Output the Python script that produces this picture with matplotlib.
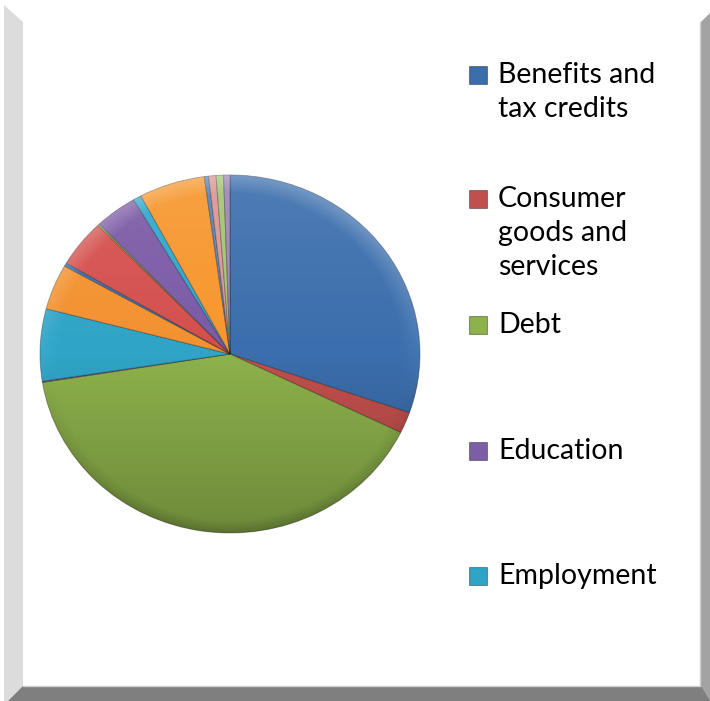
import numpy as np
import matplotlib
matplotlib.use("Agg")
import matplotlib.pyplot as plt
from matplotlib.patches import Polygon, Rectangle, Circle

# slice shares, clockwise from 12 o'clock
legend_labels = ["Benefits and\ntax credits", "Consumer\ngoods and\nservices",
                 "Debt", "Education", "Employment"]
shares = [30.3, 1.9, 40.2, 0.1, 6.5, 4.1, 0.3, 4.3, 0.15, 3.6, 0.7, 5.6,
          0.36, 0.63, 0.63, 0.54]
slice_colors = ["#3b6ead", "#c0504d", "#8db14b", "#7b5ea6", "#2fa4c6",
                "#f3912f", "#3b6fb2", "#d44f4c", "#8db14b", "#7b5aa6",
                "#2ea8cd", "#f7962d", "#5b82b8", "#d99694", "#a5c374",
                "#9b87b5"]

W, H = 710, 701
fig = plt.figure(figsize=(W / 100, H / 100), dpi=100)
fig.patch.set_facecolor("white")

# bevelled frame around the chart area
frame = [
    ([(4, 5), (23, 22), (23, 687), (8, 701), (4, 701)], "#dcdcdc"),
    ([(8, 701), (23, 686), (701, 686), (710, 695), (710, 701)], "#7f7f7f"),
    ([(701, 22), (710, 13), (710, 701), (701, 686)], "#a3a3a3"),
]
for pts, col in frame:
    fig.patches.append(Polygon([(x / W, 1 - y / H) for x, y in pts], closed=True,
                               transform=fig.transFigure, facecolor=col,
                               edgecolor="none"))
fig.add_artist(plt.Line2D([23 / W, 700 / W, 700 / W], [1 - 686 / H, 1 - 686 / H, 1 - 22 / H],
                          color="#d0d0d0", lw=1, transform=fig.transFigure))

# pie axes: centre (230, 354), radii 190 x 179 px
cx, cy, rx, ry = 230, 354, 190, 179
ax = fig.add_axes([(cx - rx) / W, (H - cy - ry) / H, 2 * rx / W, 2 * ry / H])
wedges, _ = ax.pie(shares, colors=slice_colors, startangle=90, counterclock=False,
                   radius=1, wedgeprops=dict(edgecolor=(0, 0, 0, 0.3), linewidth=0.7))

# soft shading: lighter top, darker bottom, brighter rim
yy, xx = np.mgrid[-1:1:400j, -1:1:400j]
rr = np.sqrt(xx ** 2 + yy ** 2)
dark = np.clip(-yy, 0, 1) * 0.22 + np.clip((rr - 0.93) / 0.07, 0, 1) * np.clip(-yy, 0, 1) * 0.15
rim = np.clip((rr - 0.9) / 0.1, 0, 1) * np.clip(yy + 0.3, 0, 1) * 0.2
light = np.clip(yy, 0, 1) * 0.10 + rim
tot = np.clip(dark + light, 0, 1)
shade = np.zeros((400, 400, 4))
shade[..., :3] = (light / np.maximum(dark + light, 1e-6))[..., None]
shade[..., 3] = tot
img = ax.imshow(shade, extent=(-1, 1, -1, 1), origin="lower", zorder=3,
                interpolation="bilinear", aspect="auto")
img.set_clip_path(Circle((0, 0), 1, transform=ax.transData))
ax.set_aspect("auto")
ax.set_xlim(-1.0, 1.0)
ax.set_ylim(-1.0, 1.0)
ax.axis("off")

# legend (first five categories)
marker_y = [75, 199, 325, 451, 576]
for lab, col, my in zip(legend_labels, slice_colors, marker_y):
    fig.patches.append(Rectangle((469 / W, 1 - (my + 9) / H), 18 / W, 18 / H,
                                 transform=fig.transFigure, facecolor=col,
                                 edgecolor=(0, 0, 0, 0.35), lw=0.8))
    fig.text(498 / W, 1 - (my - 13) / H, lab, fontsize=20.5, family=["Lato", "DejaVu Sans"],
             va="top", ha="left", linespacing=1.38, color="black")

fig.savefig("out.png", dpi=100)
